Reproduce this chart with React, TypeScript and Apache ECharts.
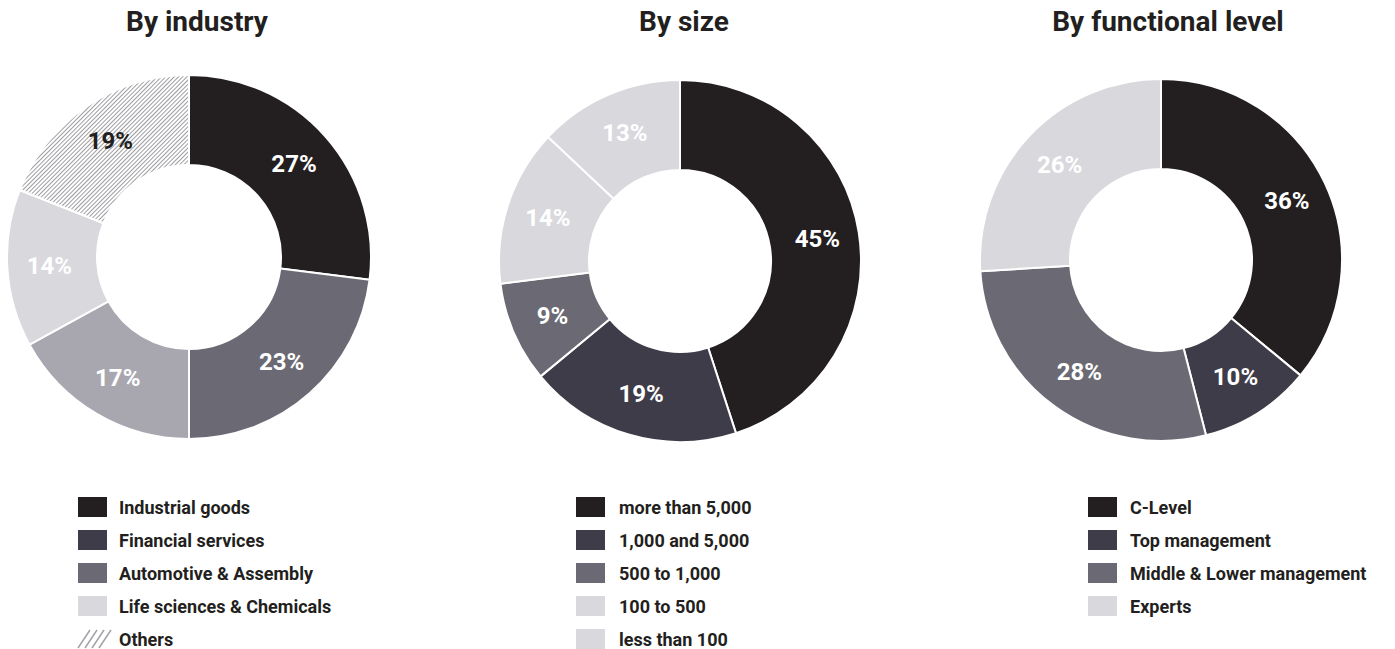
import React, { useEffect, useRef } from "react";
import * as echarts from "echarts";

const titles = ["By industry", "By size", "By functional level"];

const industryNames = ["Industrial goods", "Financial services", "Automotive & Assembly", "Life sciences & Chemicals", "Others"];
const industryValues = [27, 23, 17, 14, 19];
const industryColors = ["#231f20", "#6b6a74", "#a8a7b0", "#d8d8dd", "hatch"];

const sizeNames = ["more than 5,000", "1,000 and 5,000", "500 to 1,000", "100 to 500", "less than 100"];
const sizeValues = [45, 19, 9, 14, 13];
const sizeColors = ["#231f20", "#3e3c48", "#6b6a74", "#d8d8dd", "#d8d8dd"];

const levelNames = ["C-Level", "Top management", "Middle & Lower management", "Experts"];
const levelValues = [36, 10, 28, 26];
const levelColors = ["#231f20", "#3e3c48", "#6b6a74", "#d8d8dd"];

const legend1Names = ["Industrial goods", "Financial services", "Automotive & Assembly", "Life sciences & Chemicals", "Others"];
const legend1Colors = ["#231f20", "#3e3c48", "#6b6a74", "#d8d8dd", "hatch"];
const legend2Names = sizeNames;
const legend2Colors = ["#231f20", "#3e3c48", "#6b6a74", "#d8d8dd", "#d8d8dd"];
const legend3Names = levelNames;
const legend3Colors = ["#231f20", "#3e3c48", "#6b6a74", "#d8d8dd"];

const FONT = "Roboto, 'Noto Sans', sans-serif";
const DARK = "#231f20";

const hatchDecal = {
  symbol: "rect",
  symbolSize: 1,
  color: "#9d9da2",
  backgroundColor: "#ffffff",
  dashArrayX: [1, 0],
  dashArrayY: [1, 2],
  rotation: -Math.PI / 4,
};

function pieData(names: string[], values: number[], colors: string[]) {
  return values.map((v, i) => {
    const hatch = colors[i] === "hatch";
    return {
      name: names[i],
      value: v,
      itemStyle: hatch ? { color: "#ffffff", decal: hatchDecal } : { color: colors[i] },
      label: { color: hatch ? DARK : "#ffffff" },
    };
  });
}

function pieSeries(center: [number, number], radius: [number, number], data: any[]) {
  return {
    type: "pie",
    center,
    radius,
    startAngle: 90,
    clockwise: true,
    silent: true,
    itemStyle: { borderColor: "#ffffff", borderWidth: 2 },
    label: {
      show: true,
      position: "inside",
      formatter: "{c}%",
      fontFamily: FONT,
      fontWeight: "bold",
      fontSize: 24,
    },
    labelLine: { show: false },
    data,
  };
}

function legendGraphics(x: number, textX: number, y0: number, names: string[], colors: string[]) {
  const out: any[] = [];
  names.forEach((n, i) => {
    const cy = y0 + i * 33;
    if (colors[i] === "hatch") {
      for (let k = 0; k < 4; k++) {
        const bx = x + k * 7;
        out.push({
          type: "line",
          shape: { x1: bx, y1: cy + 9, x2: bx + 12, y2: cy - 9 },
          style: { stroke: "#a2a2a7", lineWidth: 1.5 },
        });
      }
    } else {
      out.push({
        type: "rect",
        shape: { x, y: cy - 10, width: 29, height: 20 },
        style: { fill: colors[i] },
      });
    }
    out.push({
      type: "text",
      x: textX,
      y: cy,
      style: {
        text: n,
        fill: DARK,
        font: `bold 18px ${FONT}`,
        textVerticalAlign: "middle",
        textAlign: "left",
      },
    });
  });
  return out;
}

export default function App() {
  const ref = useRef<HTMLDivElement>(null);
  useEffect(() => {
    if (!ref.current) return;
    const chart = echarts.init(ref.current, undefined, { renderer: "svg" });
    const titleX = [197, 684, 1168];
    const graphics: any[] = [];
    titles.forEach((t, i) => {
      graphics.push({
        type: "text",
        x: titleX[i],
        y: 21,
        style: {
          text: t,
          fill: DARK,
          font: `bold 28px ${FONT}`,
          textAlign: "center",
          textVerticalAlign: "middle",
        },
      });
    });
    graphics.push(...legendGraphics(78, 119, 507, legend1Names, legend1Colors));
    graphics.push(...legendGraphics(576, 619, 507, legend2Names, legend2Colors));
    graphics.push(...legendGraphics(1088, 1130, 507, legend3Names, legend3Colors));

    chart.setOption({
      animation: false,
      backgroundColor: "#ffffff",
      graphic: graphics,
      series: [
        pieSeries([189, 257], [92, 182], pieData(industryNames, industryValues, industryColors)),
        pieSeries([680, 261], [91, 181], pieData(sizeNames, sizeValues, sizeColors)),
        pieSeries([1161, 260], [91, 181], pieData(levelNames, levelValues, levelColors)),
      ],
    });
    return () => chart.dispose();
  }, []);
  return (
    <div
      ref={ref}
      style={{ position: "fixed", left: 0, top: 0, width: 1395, height: 649, background: "#fff" }}
    />
  );
}
